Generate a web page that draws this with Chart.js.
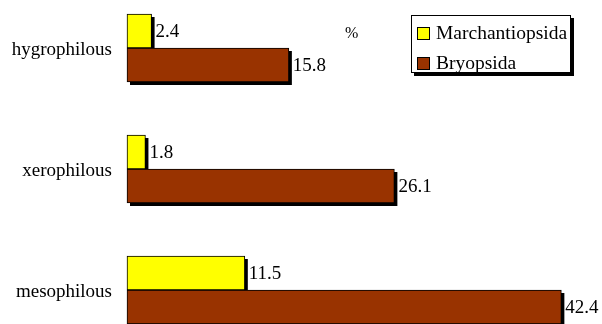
<!DOCTYPE html>
<html>
<head>
<meta charset="utf-8">
<script src="https://cdn.jsdelivr.net/npm/chart.js@4"></script>
<style>
  html, body { margin: 0; padding: 0; background: #fff; }
  #wrap { position: relative; width: 602px; height: 324px; overflow: hidden; }
  canvas { position: absolute; left: 0; top: 0; }
  .txt { position: absolute; font-family: "Liberation Serif", "Times New Roman", serif; color: #000; white-space: nowrap; }
  #legend { position: absolute; left: 411px; top: 15px; width: 158px; height: 56px; border: 1px solid #000; background: #fff; box-shadow: 3px 3px 0 #000; font-family: "Liberation Serif", "Times New Roman", serif; font-size: 19.5px; }
  .item { position: absolute; left: 5px; height: 22px; line-height: 22px; white-space: nowrap; }
  .sw { position: absolute; left: 0; top: 5px; width: 11px; height: 11px; border: 1px solid #000; }
  .lab { position: absolute; left: 19px; top: 0; }
</style>
</head>
<body>
<div id="wrap">
  <canvas id="c" width="602" height="324"></canvas>
  <div class="txt" style="left:345px; top:24px; font-size:16px;">%</div>
  <div id="legend"></div>
</div>
<script>
const categories = ["hygrophilous", "xerophilous", "mesophilous"];
const seriesNames = ["Marchantiopsida", "Bryopsida"];
const marchantiopsida = [2.4, 1.8, 11.5];
const bryopsida = [15.8, 26.1, 42.4];
const seriesColors = ["#FFFF00", "#993300"];

// HTML legend
const legendEl = document.getElementById('legend');
seriesNames.forEach((n, i) => {
  const it = document.createElement('div');
  it.className = 'item';
  it.style.top = (6 + i * 30) + 'px';
  it.innerHTML = '<span class="sw" style="background:' + seriesColors[i] + '"></span><span class="lab">' + n + '</span>';
  legendEl.appendChild(it);
});

const shadowPlugin = {
  id: 'shadows',
  beforeDatasetsDraw(chart) {
    const ctx = chart.ctx;
    ctx.save();
    ctx.fillStyle = '#000';
    chart.data.datasets.forEach((ds, di) => {
      const meta = chart.getDatasetMeta(di);
      meta.data.forEach(el => {
        const p = el.getProps(['x', 'y', 'base', 'height'], true);
        const left = Math.min(p.base, p.x), right = Math.max(p.base, p.x);
        const top = p.y - p.height / 2;
        ctx.fillRect(left + 3, top + 3, right - left, p.height);
      });
    });
    ctx.restore();
  }
};

const valueLabels = {
  id: 'valueLabels',
  afterDatasetsDraw(chart) {
    const ctx = chart.ctx;
    ctx.save();
    ctx.font = '19px "Liberation Serif", "Times New Roman", serif';
    ctx.fillStyle = '#000';
    ctx.textBaseline = 'middle';
    ctx.textAlign = 'left';
    chart.data.datasets.forEach((ds, di) => {
      const meta = chart.getDatasetMeta(di);
      meta.data.forEach((el, i) => {
        const p = el.getProps(['x', 'y'], true);
        ctx.fillText(ds.data[i].toFixed(1), p.x + 4, p.y + 1);
      });
    });
    ctx.restore();
  }
};

new Chart(document.getElementById('c'), {
  type: 'bar',
  data: {
    labels: categories,
    datasets: [
      { label: seriesNames[0], data: marchantiopsida, backgroundColor: seriesColors[0], borderColor: '#000', borderWidth: 1, borderSkipped: false, barThickness: 34, clip: false },
      { label: seriesNames[1], data: bryopsida, backgroundColor: seriesColors[1], borderColor: '#000', borderWidth: 1, borderSkipped: false, barThickness: 34, clip: false }
    ]
  },
  options: {
    indexAxis: 'y',
    responsive: false,
    animation: false,
    devicePixelRatio: 1,
    layout: { padding: { left: 0, right: 14, top: 48, bottom: 34 } },
    plugins: { legend: { display: false }, tooltip: { enabled: false } },
    scales: {
      x: { display: false, min: 0, max: 45 },
      y: {
        offset: false,
        grid: { display: false, drawTicks: false },
        border: { display: false },
        ticks: { padding: 15, labelOffset: 2, color: '#000', font: { family: '"Liberation Serif", "Times New Roman", serif', size: 19 } },
        afterFit(scale) { scale.width = 127; }
      }
    }
  },
  plugins: [shadowPlugin, valueLabels]
});
</script>
</body>
</html>
